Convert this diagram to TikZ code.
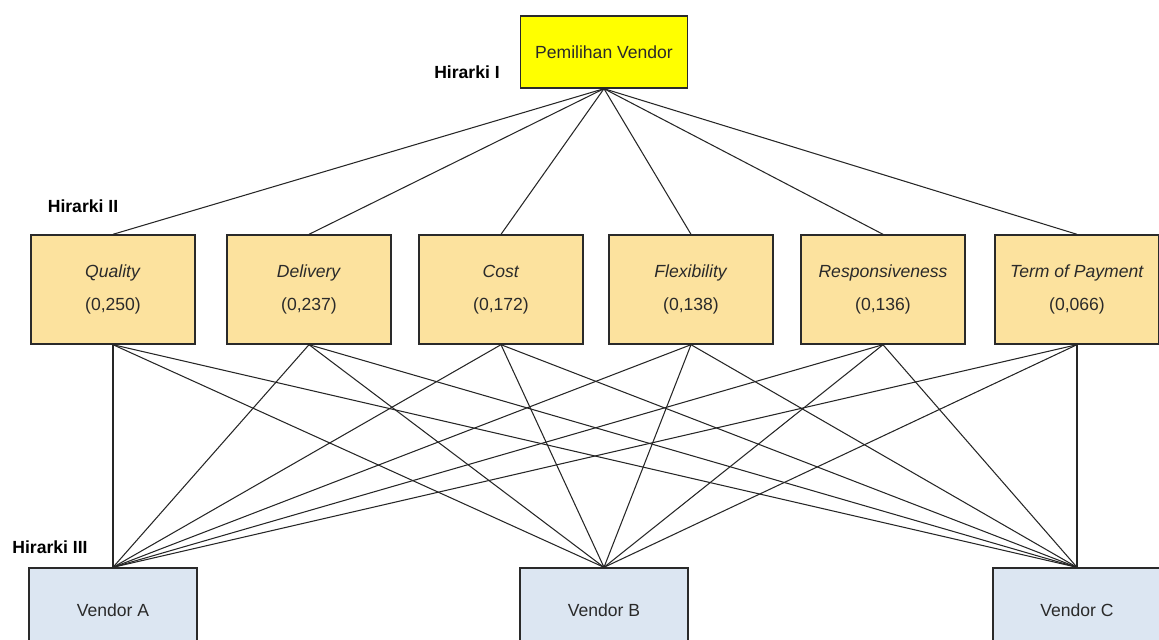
\documentclass[tikz,border=0pt]{standalone}
\usepackage{fontspec}
\setmainfont{Liberation Sans}
\usetikzlibrary{positioning}
\definecolor{goalyellow}{HTML}{FFFF00}
\definecolor{critgold}{HTML}{FCE29E}
\definecolor{vendorblue}{HTML}{DCE6F2}
\definecolor{inkgray}{HTML}{2A2A2A}
\tikzset{
    goal/.style = {
      draw=inkgray, fill=goalyellow, line width=0.8pt, text=inkgray,
      minimum width=3.34cm, minimum height=1.44cm, inner sep=0,
    },
    criterion/.style = {
      draw=inkgray, fill=critgold, line width=0.8pt, text=inkgray, align=center,
      minimum width=3.28cm, minimum height=2.18cm, inner sep=0,
    },
    vendor/.style = {
      draw=inkgray, fill=vendorblue, line width=0.8pt, text=inkgray,
      minimum width=3.36cm, minimum height=1.68cm, inner sep=0,
    },
    level label/.style = {
      font=\bfseries, text=black, inner sep=0,
    },
    link/.style = {
      draw=black!85, line width=0.6pt,
    },
}

\begin{document}
\begin{tikzpicture}[x=0.02cm, y=-0.02cm]
    \useasboundingbox (0,0) rectangle (1159,639);
    \clip (0,0) rectangle (1159,639);

    %% Hirarki I: the goal
    \node [goal] (goal) at (604,52) {Pemilihan Vendor};
    \node [level label] (h1) at (467,72) {Hirarki I};

    %% Hirarki II: the criteria with their weights
    \node [level label] (h2) at (83,206) {Hirarki II};
    \foreach \name/\x/\crit/\w in {quality/113/Quality/{(0,250)},
        delivery/309/Delivery/{(0,237)}, cost/501/Cost/{(0,172)},
        flexibility/691/Flexibility/{(0,138)},
        responsiveness/883/Responsiveness/{(0,136)},
        payment/1077/Term of Payment/{(0,066)}}{%
      \node [criterion] (\name) at (\x,289.5) {\textit{\crit}\\[7pt]\w};
    }

    %% Hirarki III: the alternatives
    \node [level label] (h3) at (50,547) {Hirarki III};
    \node [vendor] (vendorA) at (113,610) {Vendor A};
    \node [vendor] (vendorB) at (604,610) {Vendor B};
    \node [vendor] (vendorC) at (1077,610) {Vendor C};

    %% Connect goal to criteria, and every criterion to every vendor
    \foreach \c in {quality,delivery,cost,flexibility,responsiveness,payment}{%
      \draw [link] (goal.south) -- (\c.north);
      \foreach \v in {vendorA,vendorB,vendorC}{%
        \draw [link] (\c.south) -- (\v.north);
      }
    }
\end{tikzpicture}
\end{document}
